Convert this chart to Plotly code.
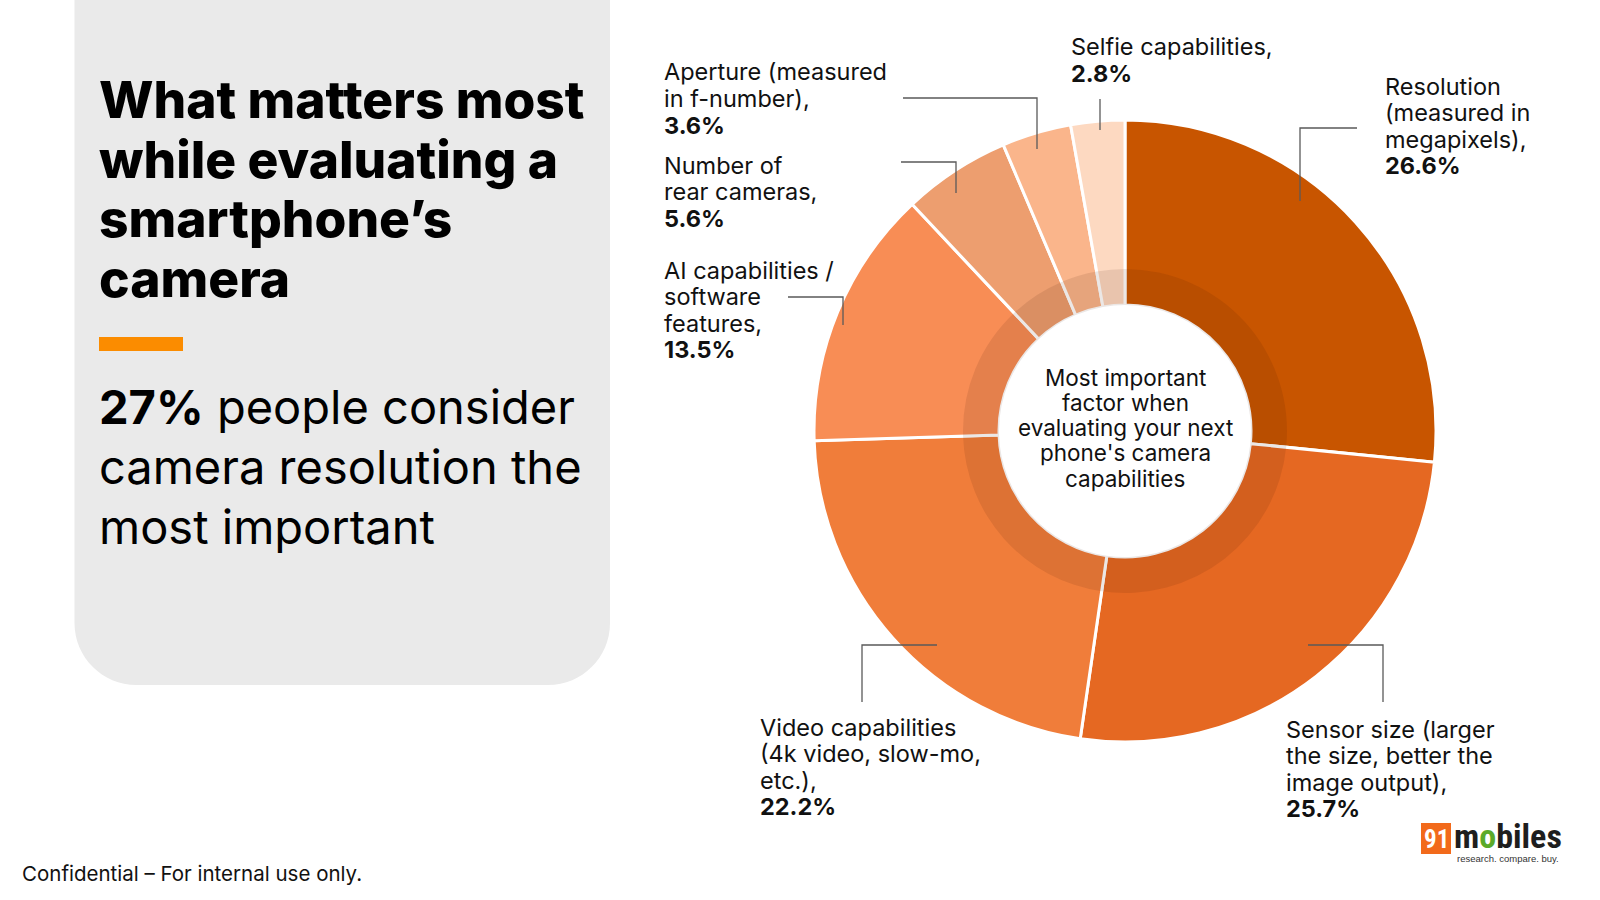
import plotly.graph_objects as go

# ---------------- data ----------------
categories = [
    "Resolution (measured in megapixels)",
    "Sensor size (larger the size, better the image output)",
    "Video capabilities (4k video, slow-mo, etc.)",
    "AI capabilities / software features",
    "Number of rear cameras",
    "Aperture (measured in f-number)",
    "Selfie capabilities",
]
values = [26.6, 25.7, 22.2, 13.5, 5.6, 3.6, 2.8]
label_lines = [
    ["Resolution", "(measured in", "megapixels),"],
    ["Sensor size (larger", "the size, better the", "image output),"],
    ["Video capabilities", "(4k video, slow-mo,", "etc.),"],
    ["AI capabilities /", "software", "features,"],
    ["Number of", "rear cameras,"],
    ["Aperture (measured", "in f-number),"],
    ["Selfie capabilities,"],
]
slice_colors = ["#C85500", "#E56822", "#F07D3A", "#F88D55", "#ED9E6F", "#FAB58B", "#FDD9C1"]

title_lines = ["What matters most", "while evaluating a", "smartphone’s", "camera"]
subtitle_lines = ["<b>27%</b> people consider", "camera resolution the", "most important"]
center_lines = ["Most important", "factor when", "evaluating your next", "phone's camera", "capabilities"]
footer = "Confidential – For internal use only."

# ---------------- layout helpers ----------------
W, H = 1600, 900
def X(px):
    return px / W
def Y(py):
    return 1 - py / H

FONT = "Inter, 'Open Sans', Roboto, sans-serif"
cx, cy, R = 1125, 431, 311
r_hole, r_ring = 126, 162

# label placement: (left x, first-line center y) in pixels; leader polyline
label_pos = [
    (1383, 86), (1284, 729), (758, 727), (662, 270), (662, 165), (662, 72), (1069, 47),
]
leaders = [
    [(1357, 128), (1300, 128), (1300, 201)],
    [(1308, 645), (1383, 645), (1383, 702)],
    [(937, 645), (862, 645), (862, 702)],
    [(788, 297), (843, 297), (843, 325)],
    [(901, 162), (956, 162), (956, 193)],
    [(903, 98), (1037, 98), (1037, 149)],
    [(1100, 99), (1100, 130)],
]

fig = go.Figure()
fig.add_trace(go.Pie(
    labels=categories, values=values, sort=False, direction="clockwise", rotation=0,
    hole=r_hole / R, marker=dict(colors=slice_colors, line=dict(color="white", width=3)),
    textinfo="none", hoverinfo="label+percent", showlegend=False,
    domain=dict(x=[X(cx - R), X(cx + R)], y=[Y(cy + R), Y(cy - R)]),
))
# darker inner ring
fig.add_trace(go.Pie(
    labels=categories, values=values, sort=False, direction="clockwise", rotation=0,
    hole=r_hole / r_ring, marker=dict(colors=["rgba(60,20,0,0.10)"] * len(values), line=dict(width=0)),
    textinfo="none", hoverinfo="skip", showlegend=False,
    domain=dict(x=[X(cx - r_ring), X(cx + r_ring)], y=[Y(cy + r_ring), Y(cy - r_ring)]),
))

shapes = []
# gray rounded panel
L, Rr, B, rad = 74.5, 610, 685, 62
k = 0.5523 * rad
path = (f"M {X(L)},{Y(-20)} L {X(L)},{Y(B - rad)} "
        f"C {X(L)},{Y(B - rad + k)} {X(L + rad - k)},{Y(B)} {X(L + rad)},{Y(B)} "
        f"L {X(Rr - rad)},{Y(B)} "
        f"C {X(Rr - rad + k)},{Y(B)} {X(Rr)},{Y(B - rad + k)} {X(Rr)},{Y(B - rad)} "
        f"L {X(Rr)},{Y(-20)} Z")
shapes.append(dict(type="path", xref="paper", yref="paper", path=path,
                   fillcolor="#EAEAEA", line=dict(width=0), layer="below"))
# orange bar
shapes.append(dict(type="rect", xref="paper", yref="paper", x0=X(99), x1=X(183), y0=Y(351), y1=Y(337),
                   fillcolor="#FB8C00", line=dict(width=0)))
# leader lines
for pts in leaders:
    p = "M " + " L ".join(f"{X(a)},{Y(b)}" for a, b in pts)
    shapes.append(dict(type="path", xref="paper", yref="paper", path=p,
                       line=dict(color="#5A5A5A", width=1.3)))
# logo box
shapes.append(dict(type="rect", xref="paper", yref="paper", x0=X(1421), x1=X(1451), y0=Y(854), y1=Y(823),
                   fillcolor="#F26A1B", line=dict(width=0)))

ann = []
def txt(x, y, s, size, anchor="left", weight="normal", color="#111111", family=FONT):
    ann.append(dict(x=X(x), y=Y(y), xref="paper", yref="paper", text=s, showarrow=False,
                    xanchor=anchor, yanchor="middle",
                    font=dict(family=family, size=size, color=color, weight=weight)))

# title
for i, s in enumerate(title_lines):
    txt(97, 99 + i * 59.7, s, 51.5, weight=800, color="#000000")
for i, s in enumerate(subtitle_lines):
    txt(97, 406 + i * 60, s, 47, color="#000000")

# slice labels
LS = 26.6
for (lx, ly), lines, v in zip(label_pos, label_lines, values):
    for j, s in enumerate(lines):
        txt(lx, ly + j * LS, s, 23.5)
    txt(lx, ly + len(lines) * LS, f"<b>{v}%</b>", 23.5)

# center text
for i, s in enumerate(center_lines):
    txt(cx, 377 + i * 25.3, s, 22.5, anchor="center")

# footer
txt(20, 873, footer, 20.5)

# logo text
txt(1436, 839, "<b>91</b>", 25, anchor="center", color="white",
    family="'Liberation Sans Narrow', 'Roboto Condensed', sans-serif")
txt(1452, 836, "<b>m<span style='color:#5BAA2A'>o</span>biles</b>", 34, color="#1E1E1E",
    family="'Liberation Sans Narrow', 'Roboto Condensed', sans-serif")
txt(1508, 858, "research. compare. buy.", 9.5, anchor="center", color="#333333",
    family="'Liberation Sans Narrow', sans-serif")

fig.update_layout(
    width=W, height=H, margin=dict(l=0, r=0, t=0, b=0),
    paper_bgcolor="white", plot_bgcolor="white",
    shapes=shapes, annotations=ann, showlegend=False,
)
fig.write_html("out.html")
